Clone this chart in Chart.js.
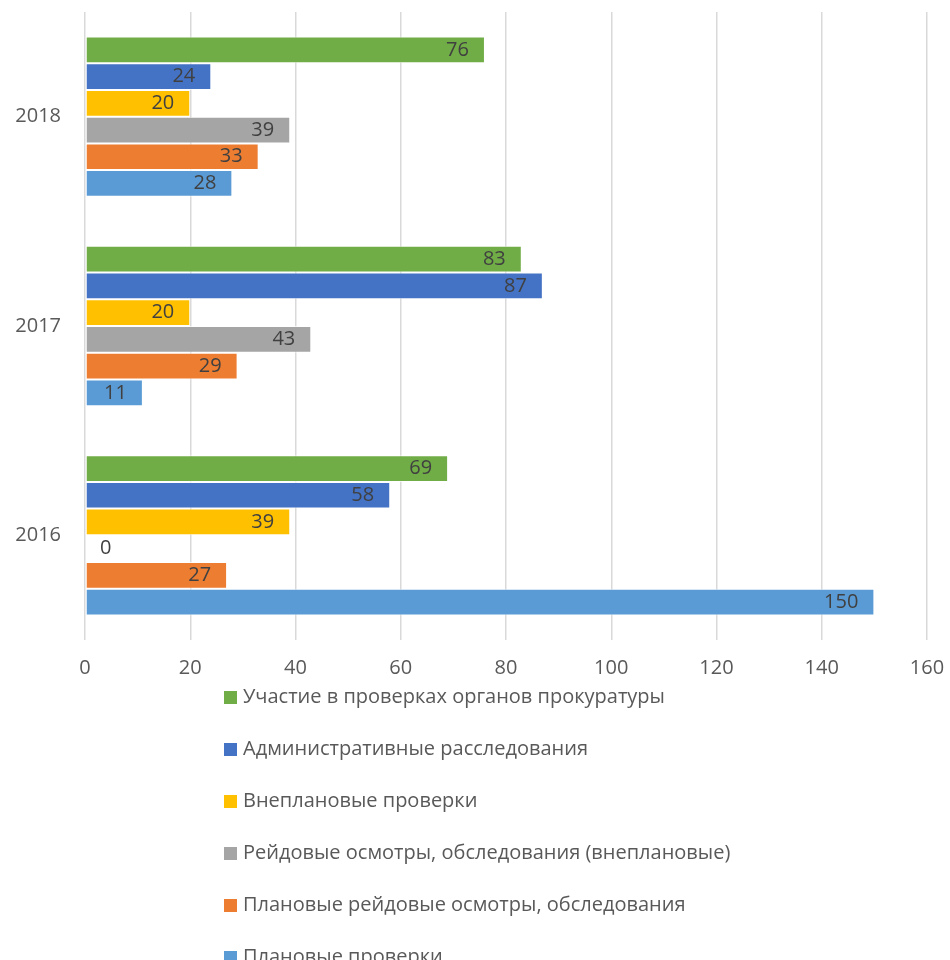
<!DOCTYPE html>
<html>
<head>
<meta charset="utf-8">
<script src="https://cdn.jsdelivr.net/npm/chart.js@4"></script>
<style>
  html, body { margin: 0; padding: 0; background: #fff; }
  #wrap { width: 950px; height: 960px; position: relative; }
</style>
</head>
<body>
<div id="wrap"><canvas id="myChart"></canvas></div>
<script>
// Data
const years = ["2018", "2017", "2016"];
const seriesNames = [
  "Участие в проверках органов прокуратуры",
  "Административные расследования",
  "Внеплановые проверки",
  "Рейдовые осмотры, обследования (внеплановые)",
  "Плановые рейдовые осмотры, обследования",
  "Плановые проверки"
];
const prosecutorChecks = [76, 83, 69];
const adminInvestigations = [24, 87, 58];
const unplannedChecks = [20, 20, 39];
const raidUnplanned = [39, 43, 0];
const raidPlanned = [33, 29, 27];
const plannedChecks = [28, 11, 150];
const xTicks = [0, 20, 40, 60, 80, 100, 120, 140, 160];

const colors = ["#70AD47", "#4472C4", "#FFC000", "#A5A5A5", "#ED7D31", "#5B9BD5"];
const allSeries = [prosecutorChecks, adminInvestigations, unplannedChecks, raidUnplanned, raidPlanned, plannedChecks];

const textColor = "#595959";
const fontFamily = "'Open Sans', 'Noto Sans', sans-serif";

//labels inside the bar end
const valueLabels = {
  id: "valueLabels",
  afterDatasetsDraw(chart) {
    const ctx = chart.ctx;
    ctx.save();
    ctx.font = "20px " + fontFamily;
    ctx.fillStyle = "#404040";
    ctx.textBaseline = "middle";
    chart.data.datasets.forEach((ds, i) => {
      chart.getDatasetMeta(i).data.forEach((bar, j) => {
        const v = ds.data[j];
        if (v === 0) {
          ctx.textAlign = "left";
          ctx.fillText(String(v), bar.x + 15, bar.y);
        } else {
          ctx.textAlign = "right";
          ctx.fillText(String(v), bar.x - 16, bar.y);
        }
      });
    });
    ctx.restore();
  }
};

//one legend entry per row under the chart
const rowLegend = {
  id: "rowLegend",
  afterDraw(chart) {
    const ctx = chart.ctx;
    ctx.save();
    ctx.font = "20px " + fontFamily;
    ctx.textBaseline = "middle";
    ctx.textAlign = "left";
    chart.data.datasets.forEach((ds, i) => {
      const y = 697 + i * 52;
      ctx.fillStyle = ds.backgroundColor;
      ctx.fillRect(224, y - 6, 13, 13);
      ctx.fillStyle = textColor;
      ctx.fillText(ds.label, 243, y);
    });
    ctx.restore();
  }
};

let canvasElement = document.getElementById("myChart").getContext("2d");
let config = {
  type: "bar",
  data: {
    labels: years,
    datasets: seriesNames.map((name, i) => ({
      label: name,
      data: allSeries[i],
      backgroundColor: colors[i],
      borderColor: "rgba(255,255,255,0.7)",
      borderWidth: 1,
      borderSkipped: false,
      categoryPercentage: 0.766,
      barPercentage: 1
    }))
  },
  options: {
    indexAxis: "y",
    responsive: true,
    maintainAspectRatio: false,
    animation: false,
    layout: { padding: { left: 0, right: 23, top: 12, bottom: 270 } },
    plugins: {
      legend: { display: false },
      tooltip: { enabled: false }
    },
    scales: {
      x: {
        min: 0,
        max: 160,
        afterBuildTicks(scale) { scale.ticks = xTicks.map(v => ({ value: v })); },
        grid: { color: "#D9D9D9", lineWidth: 1.5, drawTicks: false },
        border: { display: false },
        ticks: { color: textColor, font: { family: fontFamily, size: 20 }, padding: 16 },
        afterFit(scale) {
          scale.height = 50;
          scale.paddingLeft = 0;
          scale.paddingRight = 0;
        }
      },
      y: {
        grid: { display: false, drawTicks: false },
        border: { display: false },
        ticks: { color: textColor, font: { family: fontFamily, size: 20 }, padding: 24 },
        afterFit(scale) {
          scale.width = 85;
          scale.paddingTop = 0;
          scale.paddingBottom = 0;
        }
      }
    }
  },
  plugins: [valueLabels, rowLegend]
};

let myChart = new Chart(canvasElement, config);
</script>
</body>
</html>
